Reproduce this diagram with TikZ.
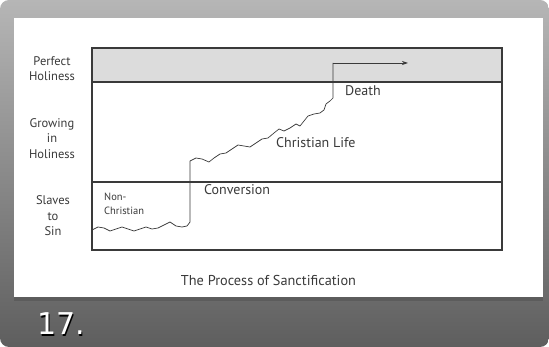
\documentclass[tikz,border=0pt]{standalone}
\usepackage{fontspec}
\setmainfont{PT Sans}
\newfontfamily\numfont{DejaVu Sans}
\usetikzlibrary{arrows.meta,shadings}
\definecolor{frametop}{HTML}{B6B6B6}
\definecolor{framebot}{HTML}{5E5E5E}
\definecolor{bandfill}{HTML}{DCDCDC}
\definecolor{inkgray}{HTML}{3A3A3A}
\begin{document}
\begin{tikzpicture}[x=1pt,y=-1pt,
  boxline/.style={draw=inkgray,line width=1.4pt},
  lbl/.style={text=inkgray,font=\fontsize{12.5}{15.5}\selectfont,align=center,inner sep=0pt},
  stagelbl/.style={text=inkgray,font=\fontsize{14}{16}\selectfont,anchor=west,inner sep=0pt},
  lifepath/.style={draw=inkgray,line width=0.7pt,line join=round}]
\useasboundingbox (0,0) rectangle (549,347);
% frame
\shade[top color=frametop,bottom color=framebot,rounded corners=9pt] (0,0) rectangle (549,347);
\fill[framebot!85!black,opacity=0.5] (14,296) rectangle (543,301);
\fill[white] (14,18) rectangle (543,297);
% chart
\fill[bandfill] (92,48) rectangle (502,82);
\draw[boxline] (92,48) rectangle (502,250);
\draw[boxline] (92,82) -- (502,82);
\draw[boxline] (92,182) -- (502,182);
% side labels
\node[lbl] (ph) at (52,68.5) {Perfect\\Holiness};
\node[lbl] (gh) at (52,138.5) {Growing\\in\\Holiness};
\node[lbl] (ss) at (53,216) {Slaves\\to\\Sin};
% stage labels
\node[lbl,align=left,anchor=west,font=\fontsize{10.5}{14}\selectfont] (nc) at (104,203.5) {Non-\\Christian};
\node[stagelbl] (conv) at (204,190) {Conversion};
\node[stagelbl] (cl) at (276,143) {Christian Life};
\node[stagelbl] (death) at (345,91) {Death};
\node[text=inkgray,font=\fontsize{14.3}{16}\selectfont] (title) at (268.5,280) {The Process of Sanctification};
% path
\coordinate (start) at (92,230);
\coordinate (top) at (333,63);
\coordinate (end) at (408,63);
\draw[lifepath] (start) -- (98,227) -- (104,228) -- (110,231) -- (116,229) -- (122,227) -- (128,229) -- (134,231) -- (140,229) -- (146,227) -- (152,229) -- (158,228) -- (164,225) -- (170,222) -- (176,226) -- (182,227) -- (187,226) -- (190,222) -- (190,161) -- (196,158) -- (202,159) -- (209,162) -- (214,158) -- (220,154) -- (226,153) -- (232,149) -- (238,145) -- (244,146) -- (250,147) -- (256,143) -- (262,139) -- (268,138) -- (274,133) -- (279,129) -- (284,131) -- (290,128) -- (296,124) -- (300,126) -- (304,121) -- (308,116) -- (314,114) -- (320,113) -- (324,110) -- (326,104) -- (330,101) -- (333,98) -- (top);
\draw[lifepath,-{Stealth[length=6pt,width=4pt]}] (top) -- (end);
% slide number
\node[text=black,font=\numfont\fontsize{30}{32}\selectfont,anchor=west,inner sep=0pt] (numsh) at (38.2,325.2) {17.};
\node[text=white,font=\numfont\fontsize{30}{32}\selectfont,anchor=west,inner sep=0pt] (num) at (37,324) {17.};
\end{tikzpicture}
\end{document}
